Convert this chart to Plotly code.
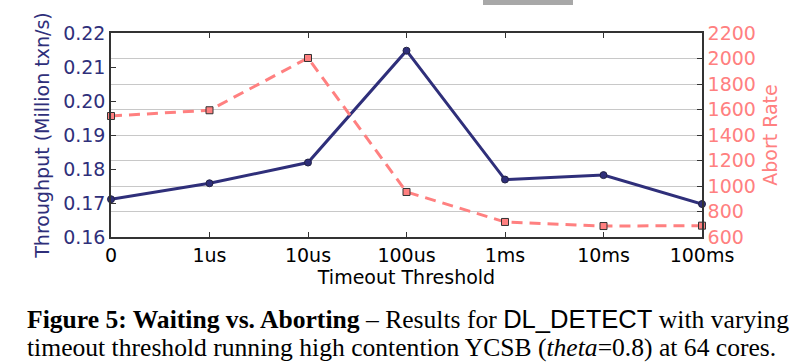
import plotly.graph_objects as go

categories = ["0", "1us", "10us", "100us", "1ms", "10ms", "100ms"]
throughput = [0.1711, 0.1758, 0.1819, 0.2148, 0.1769, 0.1782, 0.1697]
abort_rate = [1549, 1594, 2004, 953, 718, 686, 689]
left_ticks = [0.16, 0.17, 0.18, 0.19, 0.20, 0.21, 0.22]
right_ticks = [600, 800, 1000, 1200, 1400, 1600, 1800, 2000, 2200]

NAVY = "#2f2f7a"
PINK = "#ff8080"
SANS = "DejaVu Sans"

xs = list(range(len(categories)))

fig = go.Figure()
fig.add_trace(go.Scatter(
    x=xs, y=abort_rate, yaxis="y2", mode="lines+markers",
    line=dict(color=PINK, width=3, dash="11px,7px"),
    marker=dict(symbol="square", size=7, color=PINK, line=dict(color="#333333", width=1)),
    showlegend=False, cliponaxis=False,
))
fig.add_trace(go.Scatter(
    x=xs, y=throughput, yaxis="y", mode="lines+markers",
    line=dict(color=NAVY, width=3),
    marker=dict(symbol="circle", size=7, color=NAVY, line=dict(color="#222244", width=1)),
    showlegend=False, cliponaxis=False,
))

W, H = 796, 364
L, R, T, B = 111, 94, 33, 127
pw = W - L - R
ph = H - T - B

def px_x(p):
    return (p - L) / pw

def px_y(p):
    return (H - B - p) / ph

fig.update_layout(
    width=W, height=H,
    margin=dict(l=L, r=R, t=T, b=B, autoexpand=False),
    plot_bgcolor="white", paper_bgcolor="white",
    font=dict(family=SANS, size=19, color="black"),
    xaxis=dict(
        range=[0, len(categories) - 1], tickmode="array", tickvals=xs, ticktext=categories,
        ticks="inside", ticklen=5, tickcolor="#333333", mirror="ticks",
        showline=True, linecolor="#333333", linewidth=1.5, showgrid=False, zeroline=False,
        tickfont=dict(size=19, color="black"), automargin=False,
        title=dict(text="Timeout Threshold", font=dict(size=19, color="black"), standoff=3),
    ),
    yaxis=dict(
        range=[0.16, 0.22], tickmode="array", tickvals=left_ticks,
        ticktext=[f"{v:.2f}" for v in left_ticks],
        ticks="inside", ticklen=5, tickcolor="#333333",
        showline=True, linecolor="#333333", linewidth=1.5, showgrid=False, zeroline=False,
        tickfont=dict(size=19, color=NAVY), automargin=False,
        title=dict(text="Throughput (Million txn/s)", font=dict(size=19, color=NAVY), standoff=8),
    ),
    yaxis2=dict(
        range=[600, 2200], overlaying="y", side="right", tickmode="array", tickvals=right_ticks,
        ticks="inside", ticklen=5, tickcolor="#333333",
        showline=True, linecolor="#333333", linewidth=1.5,
        showgrid=True, gridcolor="#c8c8c8", gridwidth=1.2, zeroline=False,
        tickfont=dict(size=19, color=PINK), automargin=False,
        title=dict(text="Abort Rate", font=dict(size=19, color=PINK), standoff=9),
    ),
    shapes=[dict(
        type="rect", xref="paper", yref="paper",
        x0=px_x(483), x1=px_x(573), y0=px_y(5), y1=px_y(0),
        fillcolor="#a8a8a8", line=dict(width=0), layer="above",
    )],
    annotations=[
        dict(
            xref="paper", yref="paper", x=px_x(25), y=px_y(319), xanchor="left", yanchor="middle",
            showarrow=False, align="left",
            font=dict(family="Liberation Serif", size=25.6, color="black"),
            text="<b>Figure 5: Waiting vs. Aborting</b> – Results for "
                 "<span style='font-family:Liberation Sans;font-size:25.6px'>DL_DETECT</span> with varying",
        ),
        dict(
            xref="paper", yref="paper", x=px_x(25), y=px_y(347), xanchor="left", yanchor="middle",
            showarrow=False, align="left",
            font=dict(family="Liberation Serif", size=25.6, color="black"),
            text="timeout threshold running high contention YCSB (<i>theta</i>=0.8) at 64 cores.",
        ),
    ],
)

fig.write_html("out.html", config={"displayModeBar": False},
               post_script="document.body.style.margin='0px';")
